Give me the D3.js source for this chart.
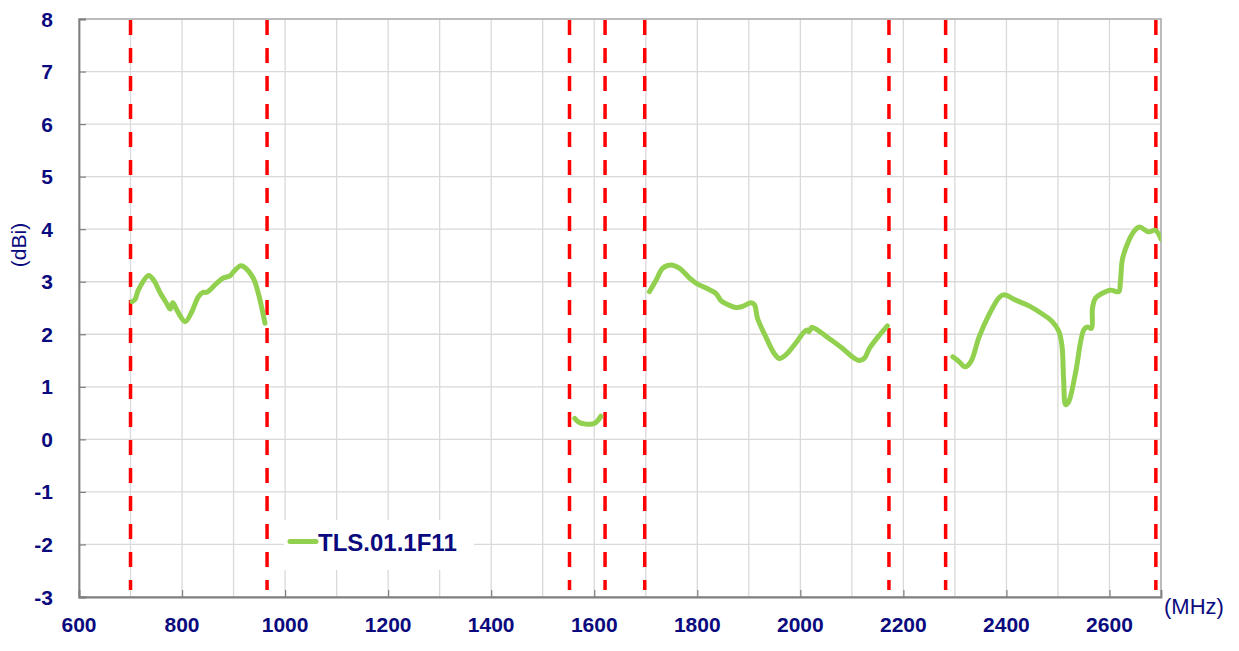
<!DOCTYPE html>
<html>
<head>
<meta charset="utf-8">
<script src="https://cdn.jsdelivr.net/npm/d3@7"></script>
<style>
  body { margin: 0; background: #fff; }
  svg { display: block; font-family: "Liberation Sans", Arial, sans-serif; }
</style>
</head>
<body>
<svg id="chart" width="1239" height="651"></svg>
<script>
// ---- data ----
const seriesName = "TLS.01.1F11";
const xTicks = [600, 800, 1000, 1200, 1400, 1600, 1800, 2000, 2200, 2400, 2600];
const yTicks = [-3, -2, -1, 0, 1, 2, 3, 4, 5, 6, 7, 8];
const bandEdges = [700, 965, 1552, 1621, 1698, 2172, 2282, 2690];

const band1Freq = [703, 709, 715, 735, 745, 758, 770, 777, 782, 790, 806, 819, 832, 841, 848, 867, 880, 893, 900, 913, 919, 938, 948, 961];
const band1Gain = [2.62, 2.67, 2.84, 3.12, 3.03, 2.78, 2.59, 2.48, 2.60, 2.46, 2.24, 2.43, 2.72, 2.80, 2.80, 2.97, 3.07, 3.11, 3.19, 3.30, 3.29, 3.07, 2.78, 2.21];

const band2Freq = [1562, 1571, 1584, 1600, 1613];
const band2Gain = [0.40, 0.32, 0.29, 0.30, 0.44];

const band3Freq = [1707, 1720, 1733, 1749, 1765, 1785, 1798, 1817, 1836, 1846, 1856, 1875, 1888, 1904, 1911, 1917, 1933, 1949, 1959, 1972, 1991, 2008, 2014, 2017, 2022, 2030, 2056, 2082, 2101, 2114, 2124, 2134, 2150, 2169];
const band3Gain = [2.81, 3.03, 3.26, 3.32, 3.26, 3.07, 2.97, 2.88, 2.78, 2.64, 2.58, 2.51, 2.53, 2.60, 2.56, 2.30, 1.95, 1.64, 1.54, 1.61, 1.83, 2.05, 2.08, 2.05, 2.13, 2.10, 1.92, 1.73, 1.57, 1.50, 1.54, 1.73, 1.94, 2.16];

const band4Freq = [2296, 2308, 2320, 2331, 2347, 2366, 2386, 2395, 2418, 2444, 2469, 2489, 2502, 2508, 2511, 2515, 2521, 2534, 2550, 2557, 2565, 2567, 2573, 2586, 2602, 2618, 2621, 2625, 2634, 2647, 2658, 2676, 2689, 2700];
const band4Gain = [1.57, 1.48, 1.38, 1.48, 1.95, 2.37, 2.70, 2.75, 2.65, 2.54, 2.39, 2.24, 2.05, 1.76, 1.13, 0.66, 0.72, 1.26, 2.08, 2.14, 2.11, 2.50, 2.69, 2.78, 2.84, 2.81, 2.97, 3.42, 3.70, 3.95, 4.04, 3.95, 3.98, 3.81];

const bands = [
  [band1Freq, band1Gain],
  [band2Freq, band2Gain],
  [band3Freq, band3Gain],
  [band4Freq, band4Gain]
];

// ---- layout ----
const svg = d3.select("#chart");
const pL = 79, pR = 1161, pT = 19, pB = 597;
const navy = "#0a0a7e";
const green = "#92d050";
const fontFam = '"Liberation Sans", Arial, sans-serif';

const x = d3.scaleLinear().domain([600, 2700]).range([pL, pR]);
const y = d3.scaleLinear().domain([-3, 8]).range([pB, pT]);

svg.append("defs").append("clipPath").attr("id", "clip")
  .append("rect").attr("x", pL).attr("y", pT).attr("width", pR - pL).attr("height", pB - pT);

// grid
const gGrid = svg.append("g");
gGrid.selectAll("line.v").data(d3.range(700, 2700, 100)).join("line")
  .attr("x1", d => x(d)).attr("x2", d => x(d))
  .attr("y1", pT).attr("y2", pB)
  .attr("stroke", "#d9d9d9").attr("stroke-width", 1.3);
gGrid.selectAll("line.h").data(yTicks.filter(v => v > -3 && v < 8)).join("line")
  .attr("x1", pL).attr("x2", pR)
  .attr("y1", d => y(d)).attr("y2", d => y(d))
  .attr("stroke", "#d9d9d9").attr("stroke-width", 1.3);

// border (top/right)
svg.append("rect").attr("x", pL).attr("y", pT).attr("width", pR - pL).attr("height", pB - pT)
  .attr("fill", "none").attr("stroke", "#a6a6a6").attr("stroke-width", 1.5);

// legend box (white, behind data)
svg.append("rect").attr("x", 284).attr("y", 520).attr("width", 190).attr("height", 50).attr("fill", "#fff");

// axes (lines and tick marks)
const xAxis = d3.axisBottom(x).tickValues(xTicks).tickSize(-7).tickFormat("");
const gx = svg.append("g").attr("transform", `translate(0,${pB})`).call(xAxis);
const yAxis = d3.axisLeft(y).tickValues(yTicks).tickSize(-7).tickFormat("");
const gy = svg.append("g").attr("transform", `translate(${pL},0)`).call(yAxis);

[gx, gy].forEach(g => {
  g.select(".domain").attr("stroke", "#7f7f7f").attr("stroke-width", 1.8);
  g.selectAll(".tick line").attr("stroke", "#7f7f7f").attr("stroke-width", 1.2);
  g.selectAll(".tick text").remove();
});

// tick labels positioned with the scales
svg.append("g").selectAll("text").data(xTicks).join("text")
  .attr("x", d => x(d)).attr("y", 632)
  .attr("text-anchor", "middle")
  .attr("fill", navy).attr("font-size", 21).attr("font-weight", "bold").attr("font-family", fontFam)
  .text(d => String(d));
svg.append("g").selectAll("text").data(yTicks).join("text")
  .attr("x", 53).attr("y", d => y(d) + 7.5)
  .attr("text-anchor", "end")
  .attr("fill", navy).attr("font-size", 21).attr("font-weight", "bold").attr("font-family", fontFam)
  .text(d => String(d));

// band edge dashed lines
svg.append("g").selectAll("line").data(bandEdges).join("line")
  .attr("x1", d => x(d)).attr("x2", d => x(d))
  .attr("y1", pT + 1).attr("y2", 590)
  .attr("stroke", "#ff0000").attr("stroke-width", 3.5)
  .attr("stroke-dasharray", "15,13");

// data lines
const line = d3.line().x(d => x(d[0])).y(d => y(d[1])).curve(d3.curveCatmullRom.alpha(0.5));
svg.append("g").attr("clip-path", "url(#clip)").selectAll("path").data(bands).join("path")
  .attr("d", b => line(b[0].map((f, i) => [f, b[1][i]])))
  .attr("fill", "none").attr("stroke", green).attr("stroke-width", 5)
  .attr("stroke-linecap", "round").attr("stroke-linejoin", "round");

// legend
svg.append("line").attr("x1", 290).attr("x2", 316).attr("y1", 541.5).attr("y2", 541.5)
  .attr("stroke", green).attr("stroke-width", 5).attr("stroke-linecap", "round");
svg.append("text").attr("x", 318).attr("y", 550.5).text(seriesName)
  .attr("fill", navy).attr("font-size", 24).attr("font-weight", "bold").attr("font-family", fontFam);

// axis titles
svg.append("text").attr("transform", "translate(18,245) rotate(-90)")
  .attr("text-anchor", "middle").attr("dominant-baseline", "central")
  .attr("fill", navy).attr("font-size", 21).attr("font-family", fontFam).text("(dBi)");
svg.append("text").attr("x", 1164).attr("y", 614)
  .attr("fill", navy).attr("font-size", 22).attr("font-family", fontFam).text("(MHz)");
</script>
</body>
</html>
